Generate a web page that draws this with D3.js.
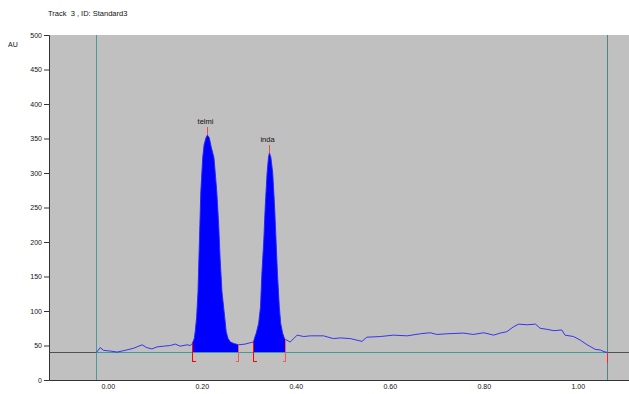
<html>

<head>
    <meta charset="utf-8">
    <title>Track 3</title>
    <style>
        body { margin: 0; background: #fff; }
        text { font-family: "Liberation Sans", Arial, sans-serif; }
    </style>
</head>

<body>
    <script src="https://cdn.jsdelivr.net/npm/d3@7/dist/d3.min.js" charset="utf-8"></script>
    <script>
        var width = 629, height = 394;

        // Rf positions and AU readings of the scan
        var rf = [-0.024, -0.016, -0.009, 0.005, 0.020, 0.034, 0.055, 0.073, 0.083, 0.094, 0.105, 0.119, 0.133, 0.144, 0.154, 0.169, 0.176,
            0.180, 0.184, 0.186, 0.189, 0.192, 0.194, 0.196, 0.198, 0.202, 0.205, 0.209, 0.212, 0.216, 0.220, 0.226, 0.232, 0.236, 0.239, 0.243, 0.249, 0.252, 0.256, 0.261, 0.268, 0.278,
            0.292, 0.303,
            0.310, 0.312, 0.316, 0.321, 0.325, 0.328, 0.332, 0.335, 0.339, 0.342, 0.344, 0.347, 0.351, 0.355, 0.358, 0.361, 0.365, 0.368, 0.372, 0.376, 0.378,
            0.388, 0.403, 0.417, 0.431, 0.459, 0.480, 0.495, 0.516, 0.541, 0.551, 0.580, 0.608, 0.637, 0.665, 0.686, 0.700, 0.722, 0.757, 0.778, 0.800,
            0.821, 0.835, 0.849, 0.863, 0.874, 0.892, 0.910, 0.920, 0.934, 0.949, 0.966, 0.973, 0.991, 1.005, 1.020, 1.037, 1.048, 1.056, 1.063];
        var au = [40, 47, 43, 42, 40.5, 42.5, 46, 51, 47, 45, 48, 49, 50, 52, 49, 51, 50,
            53, 60, 70, 90, 128, 177, 225, 273, 322, 341, 351, 355, 351, 338, 322, 273, 225, 177, 128, 90, 70, 60, 55, 53, 51,
            52, 54,
            55, 60, 68, 82, 106, 155, 203, 251, 300, 323, 329, 323, 300, 251, 203, 155, 106, 82, 68, 60, 59,
            55, 65, 63, 64, 64, 60, 61, 60, 56, 62, 63, 65, 64, 67, 68.5, 66, 67, 68, 66, 68.5,
            65, 68, 70, 77, 81, 80, 81, 75, 73.5, 71.5, 72.5, 65, 63, 58, 51, 44.5, 43.5, 41, 40];

        var peakNames = ["telmi", "inda"];
        var peakStart = [0.180, 0.310];
        var peakMax = [0.212, 0.344];
        var peakEnd = [0.278, 0.378];
        var baseAU = 40;
        var scanStart = -0.024, scanEnd = 1.063;

        var yTicks = [0, 50, 100, 150, 200, 250, 300, 350, 400, 450, 500];
        var xTicks = [0, 0.2, 0.4, 0.6, 0.8, 1.0];

        var pLeft = 49, pRight = 629, pTop = 35, pBottom = 380;
        var x = d3.scaleLinear().domain([-0.125, 1.109]).range([pLeft, pRight]);
        var y = d3.scaleLinear().domain([0, 500]).range([pBottom, pTop]);

        var data = rf.map(function (r, i) { return [r, au[i]]; });
        function valueAt(r) {
            var i = d3.bisector(function (d) { return d[0]; }).left(data, r);
            if (i <= 0) return data[0][1];
            if (i >= data.length) return data[data.length - 1][1];
            var a = data[i - 1], b = data[i];
            return a[1] + (b[1] - a[1]) * (r - a[0]) / (b[0] - a[0]);
        }
        function snap(v) { return Math.round(v) + 0.5; }

        var svg = d3.select("body").append("svg")
            .attr("width", width).attr("height", height);

        svg.append("text").attr("x", 48).attr("y", 16)
            .attr("font-size", 7.5).attr("fill", "#111")
            .attr("xml:space", "preserve")
            .text("Track  3 , ID: Standard3");

        svg.append("rect").attr("x", pLeft).attr("y", pTop)
            .attr("width", pRight - pLeft).attr("height", pBottom - pTop)
            .attr("fill", "#c0c0c0");

        // filled peaks
        var area = d3.area().x(function (d) { return x(d[0]); })
            .y0(y(baseAU)).y1(function (d) { return y(d[1]); });
        peakStart.forEach(function (s, i) {
            var e = peakEnd[i];
            var seg = data.filter(function (d) { return d[0] >= s && d[0] <= e; });
            svg.append("path").datum(seg).attr("d", area).attr("fill", "#0000ff");
        });

        // baseline
        var yb0 = snap(y(baseAU));
        svg.append("line").attr("x1", pLeft).attr("x2", pRight)
            .attr("y1", yb0).attr("y2", yb0)
            .attr("stroke", "#505050").attr("stroke-width", 1);
        svg.append("line").attr("x1", x(scanStart)).attr("x2", x(scanEnd))
            .attr("y1", yb0).attr("y2", yb0)
            .attr("stroke", "#3f9a9a").attr("stroke-width", 1);

        // scan start/end lines
        [[scanStart, "#4a9a9a"], [scanEnd, "#4f8585"]].forEach(function (s) {
            var px = snap(x(s[0]));
            svg.append("line").attr("x1", px).attr("x2", px)
                .attr("y1", pTop).attr("y2", pBottom)
                .attr("stroke", s[1]).attr("stroke-width", 1);
        });

        // trace
        svg.append("path").datum(data)
            .attr("d", d3.line().x(function (d) { return x(d[0]); }).y(function (d) { return y(d[1]); }))
            .attr("fill", "none").attr("stroke", "#2525f5").attr("stroke-width", 0.9);

        // integration marks
        peakStart.forEach(function (s, i) {
            [[s, 1, "#ff0000"], [peakEnd[i], -1, "#f25a5a"]].forEach(function (m) {
                var px = snap(x(m[0])), yb = yb0 + 9;
                svg.append("path")
                    .attr("d", "M" + px + "," + y(valueAt(m[0])) + "V" + yb + "H" + (px + 3 * m[1]))
                    .attr("fill", "none").attr("stroke", m[2]).attr("stroke-width", 1)
                    .attr("shape-rendering", "crispEdges");
            });
            var ax = snap(x(peakMax[i])), ay = y(valueAt(peakMax[i]));
            svg.append("line").attr("x1", ax).attr("x2", ax)
                .attr("y1", ay - 8).attr("y2", ay)
                .attr("stroke", "#f04848").attr("stroke-width", 1)
                .attr("shape-rendering", "crispEdges");
            svg.append("text").attr("x", ax - 2).attr("y", ay - 11)
                .attr("text-anchor", "middle").attr("font-size", 7.5).attr("fill", "#111")
                .text(peakNames[i]);
        });
        // scan end mark
        var ex = snap(x(scanEnd));
        svg.append("line").attr("x1", ex).attr("x2", ex)
            .attr("y1", yb0).attr("y2", yb0 + 10)
            .attr("stroke", "#ff2020").attr("stroke-width", 1)
            .attr("shape-rendering", "crispEdges");

        // axes
        var yAxis = svg.append("g").attr("transform", "translate(" + pLeft + ",0)")
            .call(d3.axisLeft(y).tickValues(yTicks).tickSize(5).tickPadding(2).tickFormat(d3.format("d")));
        yAxis.select(".domain").attr("stroke", "#333");
        yAxis.selectAll(".tick line").attr("stroke", "#333");
        yAxis.selectAll("text").attr("font-size", 7).attr("fill", "#111")
            .attr("font-family", "Liberation Sans, Arial, sans-serif");

        var xAxis = svg.append("g").attr("transform", "translate(0," + pBottom + ")")
            .call(d3.axisBottom(x).tickValues(xTicks).tickSize(0).tickPadding(4).tickFormat(d3.format(".2f")));
        xAxis.select(".domain").attr("stroke", "#333");
        xAxis.selectAll("text").attr("font-size", 7).attr("fill", "#111")
            .attr("font-family", "Liberation Sans, Arial, sans-serif");

        svg.append("text").attr("x", 8).attr("y", 47)
            .attr("font-size", 7).attr("fill", "#111").text("AU");
    </script>
</body>

</html>
